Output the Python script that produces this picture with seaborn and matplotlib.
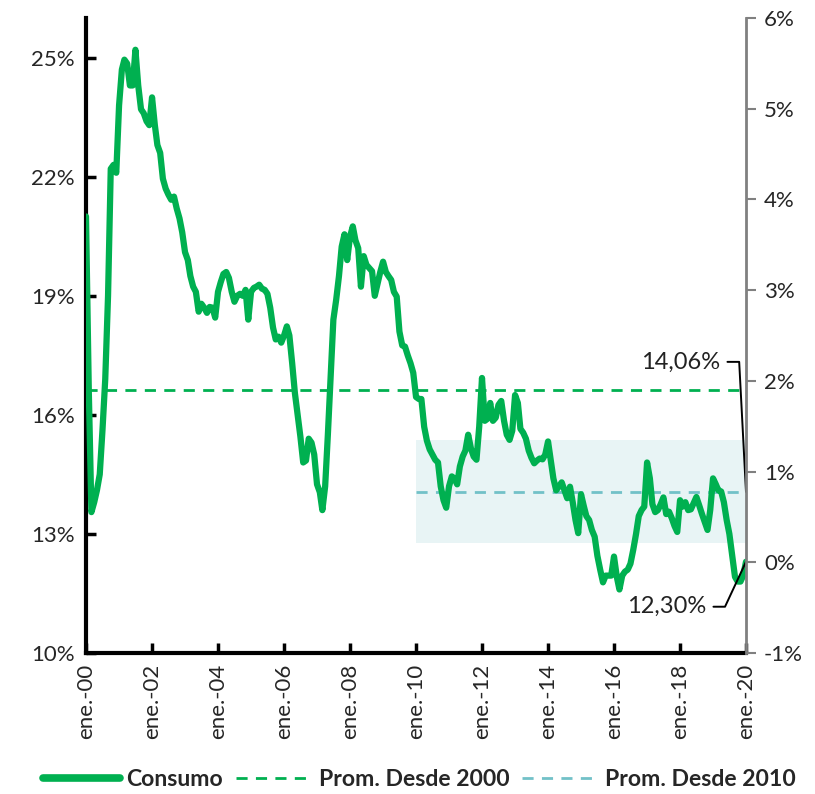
import numpy as np
import pandas as pd
import matplotlib
matplotlib.use("Agg")
import matplotlib.pyplot as plt
import seaborn as sns
from matplotlib.lines import Line2D

# ---- data (monthly, ene-2000 .. ene-2020), % ----
consumo = [
    21.0, 16.6, 13.55, 13.8, 14.1, 14.5, 15.6, 16.9, 19.0, 22.2, 22.3, 22.1,
    23.8, 24.7, 24.95, 24.85, 24.3, 24.3, 25.2, 24.3, 23.7, 23.6, 23.4, 23.3,
    24.0, 23.3, 22.8, 22.6, 21.95, 21.7, 21.55, 21.42, 21.5, 21.2, 20.95, 20.6,
    20.1, 19.9, 19.5, 19.23, 19.1, 18.6, 18.8, 18.7, 18.57, 18.72, 18.7, 18.45,
    19.1, 19.35, 19.55, 19.6, 19.45, 19.1, 18.85, 19.0, 19.05, 19.0, 19.15, 18.4,
    19.1, 19.2, 19.23, 19.28, 19.18, 19.15, 19.05, 18.7, 18.2, 17.9, 17.97, 17.82,
    18.0, 18.23, 18.0, 17.3, 16.55, 16.0, 15.45, 14.8, 14.85, 15.4, 15.3, 15.0,
    14.25, 14.05, 13.6, 14.2, 15.5, 17.0, 18.4, 18.9, 19.5, 20.24, 20.55, 19.9,
    20.49, 20.75, 20.4, 20.2, 19.23, 20.0, 19.78, 19.7, 19.62, 19.0, 19.3, 19.6,
    19.86, 19.6, 19.5, 19.4, 19.1, 18.98, 18.1, 17.75, 17.72, 17.5, 17.3, 17.06,
    16.45, 16.4, 16.4, 15.7, 15.35, 15.13, 15.0, 14.87, 14.8, 14.2, 13.85, 13.66,
    14.2, 14.45, 14.4, 14.25, 14.7, 14.95, 15.1, 15.5, 15.15, 14.95, 14.87, 15.7,
    16.93, 15.85, 15.9, 16.3, 15.85, 15.93, 16.25, 16.35, 15.85, 15.5, 15.37, 15.6,
    16.5, 16.3, 15.65, 15.55, 15.4, 15.1, 14.92, 14.78, 14.85, 14.9, 14.88, 15.0,
    15.33, 14.85, 14.4, 14.1, 14.2, 14.3, 14.1, 13.9, 14.19, 13.8, 13.35, 13.02,
    14.0, 13.7, 13.45, 13.35, 13.1, 12.93, 12.45, 12.1, 11.78, 11.95, 11.95, 11.95,
    12.43, 11.92, 11.6, 11.95, 12.05, 12.1, 12.25, 12.6, 13.0, 13.45, 13.6, 13.69,
    14.8, 14.4, 13.75, 13.55, 13.6, 13.75, 13.92, 13.5, 13.56, 13.4, 13.2, 13.05,
    13.85, 13.69, 13.8, 13.6, 13.62, 13.78, 13.93, 13.72, 13.5, 13.3, 13.1, 13.6,
    14.4, 14.25, 14.1, 14.07, 13.8, 13.35, 13.0, 12.45, 11.92, 11.8, 11.8, 11.95,
    12.3,
]
prom_2000 = 16.63
prom_2010 = 14.06
band_2010 = [12.77, 15.37]
label_prom_2010 = "14,06%"
label_last = "12,30%"
left_ticks = [10, 13, 16, 19, 22, 25]
right_ticks = [-1, 0, 1, 2, 3, 4, 5, 6]
x_years = list(range(2000, 2021, 2))
legend_labels = ["Consumo", "Prom. Desde 2000", "Prom. Desde 2010"]

dates = pd.date_range("2000-01-01", periods=len(consumo), freq="MS")
df = pd.DataFrame({"fecha": dates, "Consumo": consumo})

GREEN = "#00B050"
TEAL = "#72C1C8"
BAND = "#E8F4F5"

sns.set_theme(style="white")
plt.rcParams["font.family"] = ["Lato", "DejaVu Sans"]

fig = plt.figure(figsize=(8.15, 7.94), dpi=100)
ax = fig.add_axes([86/815, 1-653/794, (746-86)/815, (653-18)/794])

x0 = pd.Timestamp("2000-01-01")
x1 = pd.Timestamp("2020-01-01")
ax.set_xlim(x0, x1)
ax.set_ylim(10, 26)

# band since 2010
ax.fill_between([pd.Timestamp("2010-01-01"), x1], band_2010[0], band_2010[1],
                color=BAND, lw=0, zorder=0)
ax.hlines(prom_2000, x0, x1, colors=GREEN, linestyles=(0, (4, 3)), lw=2, zorder=2)
ax.hlines(prom_2010, pd.Timestamp("2010-01-01"), x1, colors=TEAL,
          linestyles=(0, (4, 3)), lw=2, zorder=2)

sns.lineplot(data=df, x="fecha", y="Consumo", ax=ax, color=GREEN, lw=4.5,
             zorder=3, legend=False)

# axes styling
ax.set_xlabel("")
ax.set_ylabel("")
ax.set_yticks(left_ticks)
ax.set_yticklabels([f"{t}%" for t in left_ticks], fontsize=16)
ax.set_xticks([pd.Timestamp(f"{y}-01-01") for y in x_years])
ax.set_xticklabels([f"ene.-{y % 100:02d}" for y in x_years], rotation=90,
                   fontsize=16)
ax.tick_params(axis="y", direction="in", length=7, width=2.5, color="black",
               left=True, pad=8)
ax.tick_params(axis="x", direction="in", length=7, width=2.5, color="black",
               bottom=True, pad=8)
for s in ["top", "right"]:
    ax.spines[s].set_visible(False)
ax.spines["left"].set_linewidth(3)
ax.spines["bottom"].set_linewidth(3)
ax.spines["left"].set_color("black")
ax.spines["bottom"].set_color("black")
ax.grid(False)

# right axis
ax2 = ax.twinx()
ax2.set_ylim(-1, 6)
ax2.set_yticks(right_ticks)
ax2.set_yticklabels([f"{t}%" for t in right_ticks], fontsize=16)
ax2.tick_params(axis="y", direction="out", length=7, width=1.5, color="#808080",
                right=True, pad=6)
for s in ["top", "left", "bottom"]:
    ax2.spines[s].set_visible(False)
ax2.spines["right"].set_color("#808080")
ax2.spines["right"].set_linewidth(2)
ax2.grid(False)

# annotations
ax.annotate(label_prom_2010, xy=(x1, prom_2010), xycoords="data",
            xytext=(-26, 130), textcoords="offset pixels", ha="right",
            va="center", fontsize=17, color="#222222",
            arrowprops=dict(arrowstyle="-", color="black", lw=1.4,
                            connectionstyle="angle,angleA=0,angleB=93,rad=0",
                            shrinkA=3, shrinkB=0))
ax.annotate(label_last, xy=(x1, consumo[-1]), xycoords="data",
            xytext=(-40, -45), textcoords="offset pixels", ha="right",
            va="center", fontsize=17, color="#222222",
            arrowprops=dict(arrowstyle="-", color="black", lw=1.4,
                            connectionstyle="angle,angleA=0,angleB=65,rad=0",
                            shrinkA=3, shrinkB=0))

handles = [
    Line2D([], [], color=GREEN, lw=5.5, solid_capstyle="round"),
    Line2D([], [], color=GREEN, lw=2, ls=(0, (4, 3))),
    Line2D([], [], color=TEAL, lw=2, ls=(0, (4, 3))),
]
fig.legend(handles, legend_labels,
           loc="center", bbox_to_anchor=(0.515, 1-780/794), ncol=3,
           frameon=False, handlelength=3.3, handletextpad=0.3,
           columnspacing=0.55, prop={"family": "Lato", "weight": "bold",
                                     "size": 16.6})

fig.savefig("out.png", dpi=100)
